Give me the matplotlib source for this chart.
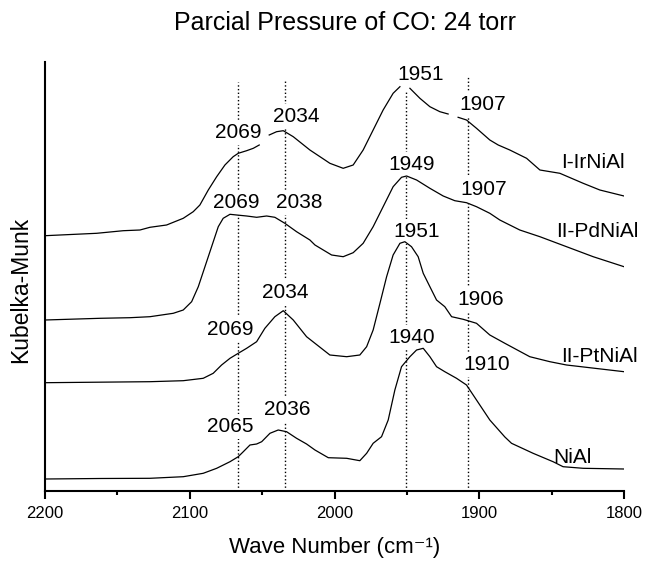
#!/usr/bin/env python3
"""DRIFTS spectra of adsorbed CO, four catalysts, stacked"""

import numpy as np
import matplotlib
matplotlib.use('Agg')
import matplotlib.pyplot as plt
from matplotlib.ticker import MultipleLocator

plt.rcParams['font.family'] = ['Liberation Sans', 'DejaVu Sans']

nan = np.nan

# wave number (cm-1), intensity (offset, arbitrary units)
ir_wn = [2200, 2164.3, 2145.9, 2134.4, 2127.5, 2116, 2104.5, 2097.6, 2093, 2087.2, 2081.4, 2075.7,
         2070, 2066.5, 2060.7, 2056.1, 2052,
         2048, 2045.1, 2040, 2035.4, 2028.5, 2017, 2006.6, 2003.2, 1994, 1987.1, 1980.2, 1973.3,
         1966.4, 1959.5, 1954.8,
         1951, 1947.9, 1941, 1934.1, 1927.2, 1921.5,
         1918, 1914.6, 1908.8, 1901.9, 1892.7, 1886.9, 1878.9, 1867.3, 1858.1, 1844.3, 1828.2,
         1816.7, 1800]
ir_val = [255.3, 257.7, 260.3, 261, 263.7, 266, 272.7, 279.3, 286, 301, 314.3, 326,
          334.3, 337.7, 340.3, 342.7, 346,
          nan, 356, 359.3, 360.3, 354.3, 341, 331, 327.7, 322.7, 326, 341, 361,
          381, 397.7, 404.3,
          nan, 402.7, 392.7, 384.3, 379.3, 377,
          nan, 373.7, 371, 362.7, 351, 346, 341, 332.7, 321, 317.7, 307.7,
          301, 295]

pd_wn = [2200, 2162, 2141.3, 2127.5, 2111.4, 2104.5, 2098.7, 2094.1, 2089.5, 2084.9, 2080.3, 2076.9,
         2072.2, 2067.6, 2060.7, 2053.8, 2046.9, 2041.2, 2034.3, 2026.2, 2017, 2013.5, 2002, 1994,
         1987.1, 1980.2, 1973.3, 1966.4, 1959.5, 1953.7, 1950.2, 1943.3, 1934.1, 1924.9, 1916.9,
         1908.8, 1901.9, 1892.7, 1885.8, 1872, 1858.1, 1839.7, 1821.3, 1800]
pd_val = [171, 172.7, 173.3, 174.3, 177.7, 181, 189.3, 204.3, 224.3, 244.3, 264.3, 272.7,
          276.7, 276, 275, 273.7, 275, 273.7, 267.7, 259.3, 251, 246, 236, 234.3,
          238.3, 247.7, 264.3, 284.3, 304.3, 313.7, 315, 311, 302.7, 295, 290.3,
          288.3, 284.3, 277.7, 271, 261, 254.3, 244.3, 234.3, 224.3]

pt_wn = [2200, 2127.5, 2104.5, 2090.7, 2083.8, 2078, 2072.2, 2066.5, 2060.7, 2053.8, 2048.1, 2041.2,
         2035.4, 2028.5, 2019.3, 2013.5, 2003.2, 1991.6, 1982.5, 1977.8, 1973.3, 1968.6, 1964, 1959.5,
         1954.8, 1951.4, 1946.8, 1942.2, 1938.7, 1934.1, 1929.5, 1923.8, 1919.1, 1911.1, 1901.9,
         1892.7, 1882.3, 1865.1, 1851.2, 1839.7, 1800]
pt_val = [108.3, 109.3, 110.3, 112.7, 117.7, 126, 132.7, 137.7, 142.7, 149.3, 162.7, 174.3,
          180.3, 171, 154.3, 147.7, 136, 134.3, 136, 144.3, 161, 187.7, 214.3, 236,
          247.7, 249.3, 244.3, 234.3, 217.7, 204.3, 191, 184.3, 174.3, 171.7, 167.7,
          156, 147.7, 134.3, 129.3, 126, 119.3]

ni_wn = [2200, 2162, 2127.5, 2104.5, 2090.7, 2081.4, 2072.2, 2066.5, 2063, 2058.4, 2053.8, 2050.3,
         2044.6, 2038.9, 2033.1, 2026.2, 2019.3, 2013.5, 2004.3, 1991.6, 1982.5, 1977.8, 1973.3,
         1967.5, 1962.9, 1958.3, 1953.7, 1947.9, 1943.3, 1938.7, 1934.1, 1929.5, 1923.8, 1915.7,
         1908.8, 1901.9, 1892.7, 1882.3, 1877.7, 1862.8, 1849, 1842.1, 1828.2, 1800]
ni_val = [12, 12.5, 12.7, 14.3, 17.7, 22.7, 29.3, 34.3, 39.3, 46, 47, 49.3,
          57.7, 61, 59.3, 52.7, 47, 41, 33.3, 32.7, 30.3, 37.7, 47.7,
          54.3, 71, 101, 124.3, 134.3, 141, 142.7, 134.3, 124.3, 119.3, 112.7,
          106, 91, 71, 54, 47.7, 37.7, 29.3, 24.3, 22.7, 22]

# reference lines
ref_wn = [2067, 2034, 1950.5, 1907.5]
ref_top = [409, 410, 401, 414]

# peak labels: text, x (cm-1), y baseline
peak_text = ['2069', '2034', '1951', '1907',
             '2069', '2038', '1949', '1907',
             '2069', '2034', '1951', '1906',
             '2065', '2036', '1940', '1910']
peak_x = [2066.5, 2026.2, 1940.5, 1897.5,
          2067.6, 2024.4, 1946.8, 1896.7,
          2072.2, 2033.7, 1943.3, 1899,
          2072.2, 2032.5, 1946.8, 1895]
peak_y = [353.3, 369.3, 411, 381,
          282.7, 282.7, 321, 296,
          156, 192.7, 254.3, 186,
          59.3, 76, 147.7, 121]

names = ['I-IrNiAl', 'II-PdNiAl', 'II-PtNiAl', 'NiAl']
name_x = [1821.3, 1818.1, 1816.7, 1835.7]
name_y = [322.7, 254.3, 129.3, 27.7]


def main():
    fig = plt.figure(figsize=(6.46, 5.62), dpi=100)
    ax = fig.add_axes([45 / 646, 1 - 491 / 562, 579 / 646, 429 / 562])

    for wn, val in [(ir_wn, ir_val), (pd_wn, pd_val), (pt_wn, pt_val), (ni_wn, ni_val)]:
        ax.plot(wn, val, color='black', linewidth=0.9, zorder=4)

    for x, top in zip(ref_wn, ref_top):
        ax.plot([x, x], [0, top], color='black', linestyle=':', linewidth=1.0, zorder=1)

    for t, x, y in zip(peak_text, peak_x, peak_y):
        ax.text(x, y, t, fontsize=15, ha='center', va='baseline', zorder=2,
                bbox=dict(boxstyle='square,pad=0.15', facecolor='white', edgecolor='none'))

    for t, x, y in zip(names, name_x, name_y):
        ax.text(x, y, t, fontsize=15, ha='center', va='baseline', zorder=2)

    ax.set_xlim(2200, 1800)
    ax.set_ylim(0, 429)
    ax.xaxis.set_major_locator(MultipleLocator(100))
    ax.xaxis.set_minor_locator(MultipleLocator(50))
    ax.set_yticks([])
    for side in ['top', 'right']:
        ax.spines[side].set_visible(False)
    for side in ['left', 'bottom']:
        ax.spines[side].set_linewidth(1.5)
    ax.tick_params(axis='x', which='major', direction='out', length=5.5, width=1.5,
                   labelsize=12, pad=5)
    ax.tick_params(axis='x', which='minor', direction='out', length=3, width=1.5)
    ax.set_xlabel('Wave Number (cm\u207b\u00b9)', fontsize=16, labelpad=12)

    fig.text(21 / 646, 1 - 290 / 562, 'Kubelka-Munk', fontsize=16.5, rotation=90,
             ha='center', va='center')
    fig.text(345.5 / 646, 1 - 30 / 562, 'Parcial Pressure of CO: 24 torr', fontsize=18,
             ha='center', va='baseline')

    fig.savefig('out.png', dpi=100)
    plt.close(fig)


if __name__ == '__main__':
    main()
